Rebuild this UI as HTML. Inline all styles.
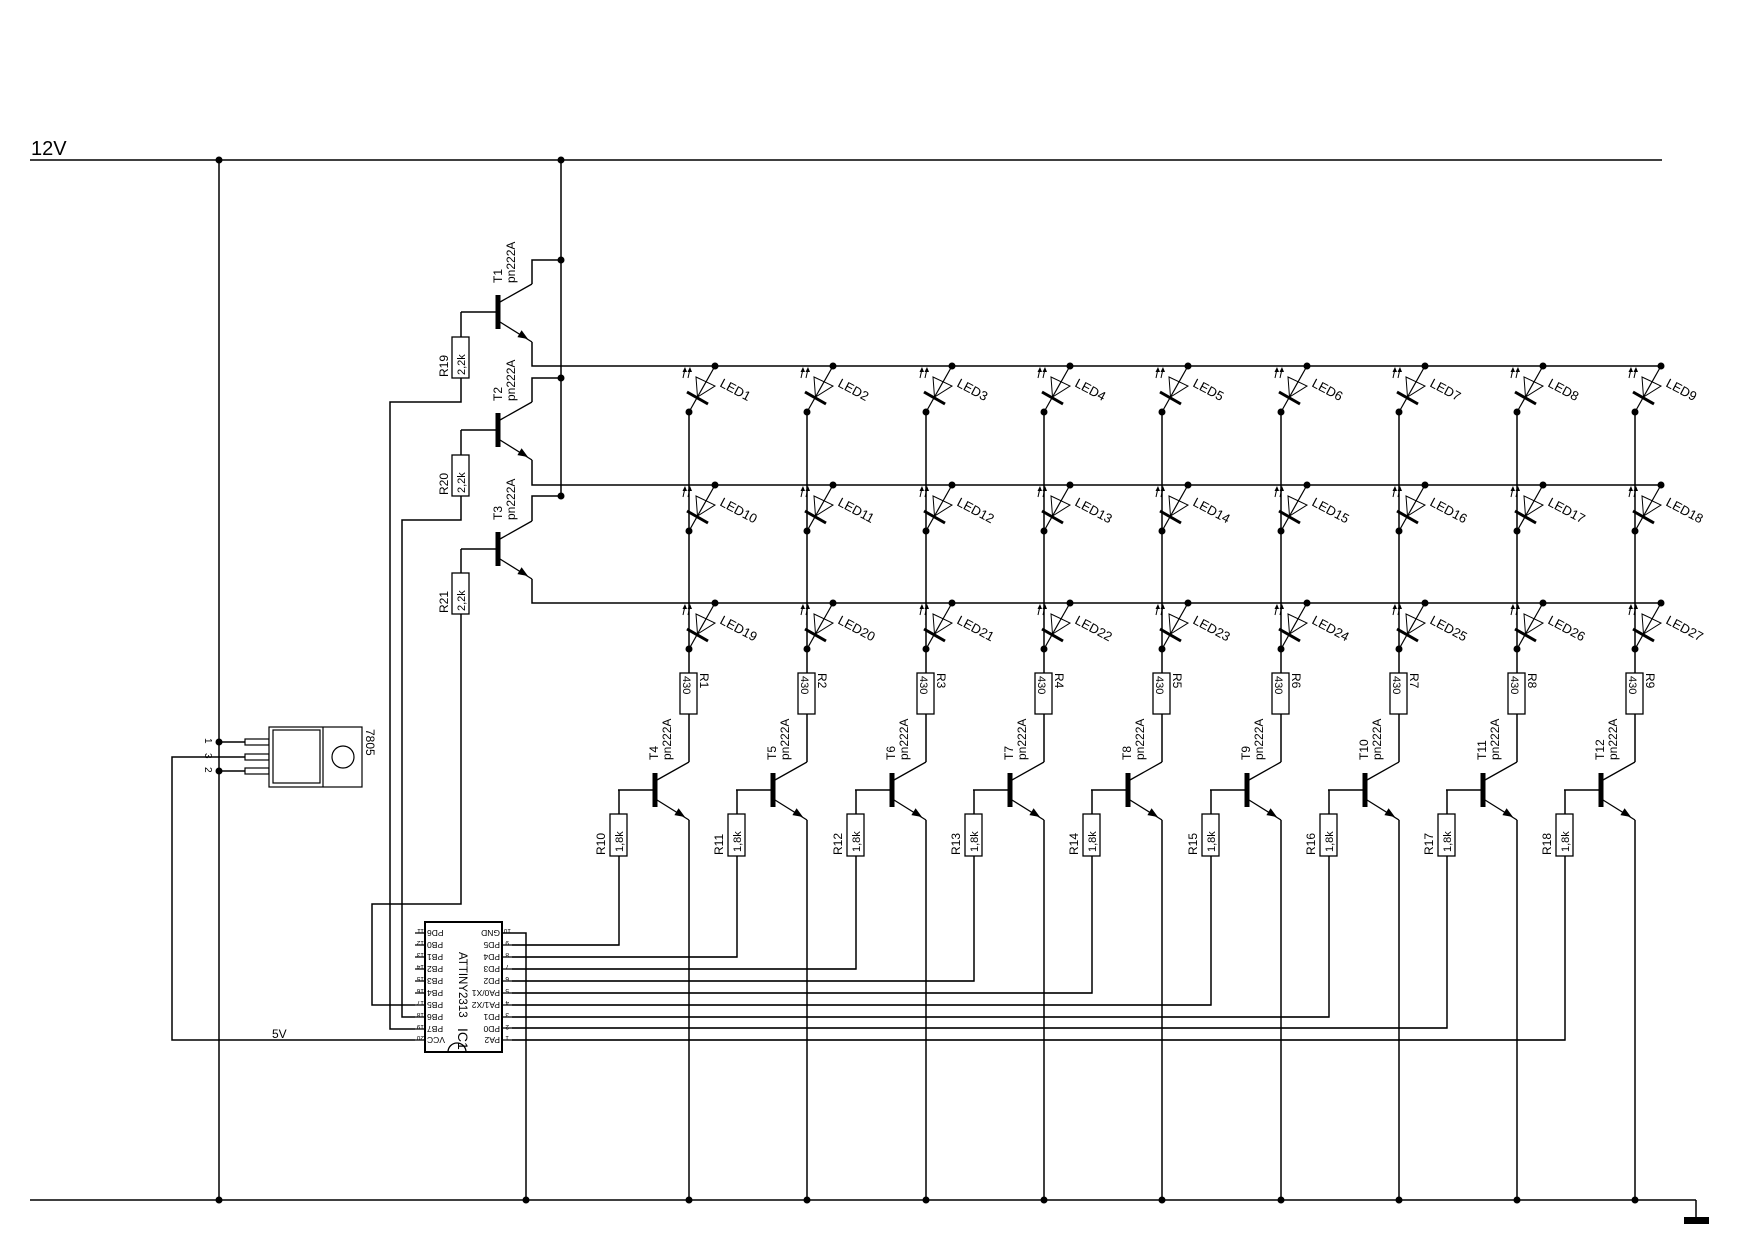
<!DOCTYPE html>
<html><head><meta charset="utf-8"><style>
html,body{margin:0;padding:0;background:#fff;}
svg{display:block;}
text{font-family:"Liberation Sans",sans-serif;fill:#000;}
</style></head><body>
<svg width="1754" height="1240" viewBox="0 0 1754 1240" xmlns="http://www.w3.org/2000/svg">
<defs>
<g id="tr">
<rect x="-2.5" y="-17" width="5" height="34" fill="#000"/>
<line x1="2" y1="-10" x2="34" y2="-28" stroke="#000" stroke-width="1.3"/>
<line x1="2" y1="10" x2="34" y2="30" stroke="#000" stroke-width="1.3"/>
<polygon points="30,27 23.6,18.3 19.4,25.1" fill="#000"/>
<line x1="-2" y1="0" x2="-37" y2="0" stroke="#000" stroke-width="1.5"/>
</g>
<g id="led">
<line x1="0" y1="0" x2="-26" y2="46" stroke="#000" stroke-width="1.2"/>
<polygon points="-19,11 0,20 -17.5,31" fill="none" stroke="#000" stroke-width="1"/>
<line x1="-28" y1="26" x2="-7" y2="38" stroke="#000" stroke-width="3"/>
<line x1="-32" y1="12" x2="-30" y2="3" stroke="#000" stroke-width="1"/>
<line x1="-27" y1="12" x2="-25" y2="3" stroke="#000" stroke-width="1"/>
<polygon points="-30,1 -32.5,6 -28,6" fill="#000"/>
<polygon points="-25,1 -27.5,6 -23,6" fill="#000"/>
<circle cx="0" cy="0" r="3.5" fill="#000"/>
<circle cx="-26" cy="46" r="3.5" fill="#000"/>
</g>
<g id="col">
<line x1="689" y1="412" x2="689" y2="673" stroke="#000" stroke-width="1.5"/>
<use href="#led" x="715" y="366"/>
<use href="#led" x="715" y="485"/>
<use href="#led" x="715" y="603"/>
<rect x="680" y="673" width="17" height="41" fill="#fff" stroke="#000" stroke-width="1.3"/>
<line x1="689" y1="714" x2="689" y2="762" stroke="#000" stroke-width="1.5"/>
<use href="#tr" x="655" y="790"/>
<line x1="689" y1="820" x2="689" y2="1200" stroke="#000" stroke-width="1.5"/>
<circle cx="689" cy="1200" r="3.5" fill="#000"/>
<line x1="619" y1="790" x2="619" y2="814" stroke="#000" stroke-width="1.5"/>
<rect x="610" y="814" width="17" height="42" fill="#fff" stroke="#000" stroke-width="1.3"/>
</g>
</defs>

<g stroke="#000" stroke-width="1.5" fill="none">
<line x1="30" y1="160" x2="1662" y2="160"/>
<line x1="30" y1="1200" x2="1696" y2="1200"/>
<polyline points="1696,1200 1696,1218"/>
<line x1="219" y1="160" x2="219" y2="1200"/>
<line x1="561" y1="160" x2="561" y2="496"/>
<path d="M532 284V260H561M532 342V366H1661"/>
<path d="M532 402V378H561M532 460V485H1661"/>
<path d="M532 521V496H561M532 579V603H1661"/>
<path d="M461 312V337M461 378V402H390V1029H415"/>
<path d="M461 430V455M461 496V520H402V1017H415"/>
<path d="M461 549V573M461 614V904H372V1005H415"/>
<path d="M619 856V945H512M737 856V957H512M856 856V969H512M974 856V981H512M1092 856V993H512M1211 856V1005H512M1329 856V1017H512M1447 856V1028H512M1565 856V1040H512"/>
<path d="M502 933H526V1200"/>
<path d="M415 1040H172V757H245"/>
<path d="M219 742H245M219 771H245"/>
</g>
<rect x="1684" y="1217" width="25" height="7" fill="#000"/>
<text x="31" y="155" font-size="20">12V</text>
<text x="272" y="1038" font-size="12">5V</text>
<g fill="#000">
<circle cx="219" cy="160" r="3.5"/><circle cx="561" cy="160" r="3.5"/>
<circle cx="219" cy="1200" r="3.5"/><circle cx="526" cy="1200" r="3.5"/>
<circle cx="561" cy="260" r="3.5"/><circle cx="561" cy="378" r="3.5"/><circle cx="561" cy="496" r="3.5"/>
<circle cx="219" cy="742" r="3.5"/><circle cx="219" cy="771" r="3.5"/>
</g>

<use href="#tr" x="498" y="312"/>
<use href="#tr" x="498" y="430"/>
<use href="#tr" x="498" y="549"/>
<rect x="452" y="337" width="17" height="41" fill="#fff" stroke="#000" stroke-width="1.3"/>
<rect x="452" y="455" width="17" height="41" fill="#fff" stroke="#000" stroke-width="1.3"/>
<rect x="452" y="573" width="17" height="41" fill="#fff" stroke="#000" stroke-width="1.3"/>
<g font-size="12">
<text transform="translate(502,283) rotate(-90)">T1</text><text transform="translate(515,283) rotate(-90)">pn222A</text>
<text transform="translate(502,401) rotate(-90)">T2</text><text transform="translate(515,401) rotate(-90)">pn222A</text>
<text transform="translate(502,520) rotate(-90)">T3</text><text transform="translate(515,520) rotate(-90)">pn222A</text>
<text transform="translate(448,377) rotate(-90)">R19</text><text transform="translate(465,375) rotate(-90)" font-size="11">2,2k</text>
<text transform="translate(448,495) rotate(-90)">R20</text><text transform="translate(465,493) rotate(-90)" font-size="11">2,2k</text>
<text transform="translate(448,613) rotate(-90)">R21</text><text transform="translate(465,611) rotate(-90)" font-size="11">2,2k</text>
</g>

<g stroke="#000" stroke-width="1.2" fill="#fff">
<rect x="245" y="739" width="24" height="6"/>
<rect x="245" y="754" width="24" height="6"/>
<rect x="245" y="768" width="24" height="6"/>
<rect x="269" y="727" width="93" height="60"/>
<rect x="273" y="730" width="47" height="53"/>
<line x1="323" y1="727" x2="323" y2="787"/>
<circle cx="343" cy="757" r="11"/>
</g>
<g font-size="10">
<text transform="translate(205,738) rotate(90)">1</text>
<text transform="translate(205,753) rotate(90)">3</text>
<text transform="translate(205,767) rotate(90)">2</text>
</g>
<text transform="translate(366,729) rotate(90)" font-size="12">7805</text>

<g stroke="#000" stroke-width="1.3">
<rect x="425" y="922" width="77" height="130" fill="#fff" stroke-width="2"/>
<path d="M448 1052A9 9 0 0 1 466 1052" fill="none"/>
<path d="M415 933H425M415 945H425M415 957H425M415 969H425M415 981H425M415 993H425M415 1005H425M415 1017H425M415 1029H425M415 1040H425"/>
</g>
<g stroke="#000" stroke-width="1.3" fill="none">
<path d="M502 945H619M502 957H737M502 969H856M502 981H974M502 993H1092M502 1005H1211M502 1017H1329M502 1028H1447M502 1040H1565"/>
</g>
<g font-size="8.5">
<text transform="translate(427,930) rotate(180)" text-anchor="end">PD6</text>
<text transform="translate(427,942) rotate(180)" text-anchor="end">PB0</text>
<text transform="translate(427,954) rotate(180)" text-anchor="end">PB1</text>
<text transform="translate(427,966) rotate(180)" text-anchor="end">PB2</text>
<text transform="translate(427,978) rotate(180)" text-anchor="end">PB3</text>
<text transform="translate(427,990) rotate(180)" text-anchor="end">PB4</text>
<text transform="translate(427,1002) rotate(180)" text-anchor="end">PB5</text>
<text transform="translate(427,1014) rotate(180)" text-anchor="end">PB6</text>
<text transform="translate(427,1026) rotate(180)" text-anchor="end">PB7</text>
<text transform="translate(427,1037) rotate(180)" text-anchor="end">VCC</text>
<text transform="translate(500,930) rotate(180)">GND</text>
<text transform="translate(500,942) rotate(180)">PD5</text>
<text transform="translate(500,954) rotate(180)">PD4</text>
<text transform="translate(500,966) rotate(180)">PD3</text>
<text transform="translate(500,978) rotate(180)">PD2</text>
<text transform="translate(500,990) rotate(180)">PA0/X1</text>
<text transform="translate(500,1002) rotate(180)">PA1/X2</text>
<text transform="translate(500,1014) rotate(180)">PD1</text>
<text transform="translate(500,1026) rotate(180)">PD0</text>
<text transform="translate(500,1037) rotate(180)">PA2</text>
</g>
<g font-size="6.5">
<text transform="translate(424,929) rotate(180)">11</text><text transform="translate(424,941) rotate(180)">12</text>
<text transform="translate(424,953) rotate(180)">13</text><text transform="translate(424,965) rotate(180)">14</text>
<text transform="translate(424,977) rotate(180)">15</text><text transform="translate(424,989) rotate(180)">16</text>
<text transform="translate(424,1001) rotate(180)">17</text><text transform="translate(424,1013) rotate(180)">18</text>
<text transform="translate(424,1025) rotate(180)">19</text><text transform="translate(424,1036) rotate(180)">20</text>
<text transform="translate(511,929) rotate(180)">10</text><text transform="translate(509,941) rotate(180)">9</text>
<text transform="translate(509,953) rotate(180)">8</text><text transform="translate(509,965) rotate(180)">7</text>
<text transform="translate(509,977) rotate(180)">6</text><text transform="translate(509,989) rotate(180)">5</text>
<text transform="translate(509,1001) rotate(180)">4</text><text transform="translate(509,1013) rotate(180)">3</text>
<text transform="translate(509,1025) rotate(180)">2</text><text transform="translate(509,1036) rotate(180)">1</text>
</g>
<text transform="translate(459,952) rotate(90)" font-size="11.5">ATTINY2313</text>
<text transform="translate(458,1028) rotate(90)" font-size="14">IC1</text>

<use href="#col" x="0"/>
<use href="#col" x="118"/>
<use href="#col" x="237"/>
<use href="#col" x="355"/>
<use href="#col" x="473"/>
<use href="#col" x="592"/>
<use href="#col" x="710"/>
<use href="#col" x="828"/>
<use href="#col" x="946"/>

<g font-size="13">
<text transform="translate(719,386) rotate(28)">LED1</text>
<text transform="translate(837,386) rotate(28)">LED2</text>
<text transform="translate(956,386) rotate(28)">LED3</text>
<text transform="translate(1074,386) rotate(28)">LED4</text>
<text transform="translate(1192,386) rotate(28)">LED5</text>
<text transform="translate(1311,386) rotate(28)">LED6</text>
<text transform="translate(1429,386) rotate(28)">LED7</text>
<text transform="translate(1547,386) rotate(28)">LED8</text>
<text transform="translate(1665,386) rotate(28)">LED9</text>
<text transform="translate(719,505) rotate(28)">LED10</text>
<text transform="translate(837,505) rotate(28)">LED11</text>
<text transform="translate(956,505) rotate(28)">LED12</text>
<text transform="translate(1074,505) rotate(28)">LED13</text>
<text transform="translate(1192,505) rotate(28)">LED14</text>
<text transform="translate(1311,505) rotate(28)">LED15</text>
<text transform="translate(1429,505) rotate(28)">LED16</text>
<text transform="translate(1547,505) rotate(28)">LED17</text>
<text transform="translate(1665,505) rotate(28)">LED18</text>
<text transform="translate(719,623) rotate(28)">LED19</text>
<text transform="translate(837,623) rotate(28)">LED20</text>
<text transform="translate(956,623) rotate(28)">LED21</text>
<text transform="translate(1074,623) rotate(28)">LED22</text>
<text transform="translate(1192,623) rotate(28)">LED23</text>
<text transform="translate(1311,623) rotate(28)">LED24</text>
<text transform="translate(1429,623) rotate(28)">LED25</text>
<text transform="translate(1547,623) rotate(28)">LED26</text>
<text transform="translate(1665,623) rotate(28)">LED27</text>
</g>
<g font-size="12">
<text transform="translate(700,673) rotate(90)">R1</text><text transform="translate(683,676) rotate(90)" font-size="11">430</text>
<text transform="translate(818,673) rotate(90)">R2</text><text transform="translate(801,676) rotate(90)" font-size="11">430</text>
<text transform="translate(937,673) rotate(90)">R3</text><text transform="translate(920,676) rotate(90)" font-size="11">430</text>
<text transform="translate(1055,673) rotate(90)">R4</text><text transform="translate(1038,676) rotate(90)" font-size="11">430</text>
<text transform="translate(1173,673) rotate(90)">R5</text><text transform="translate(1156,676) rotate(90)" font-size="11">430</text>
<text transform="translate(1292,673) rotate(90)">R6</text><text transform="translate(1275,676) rotate(90)" font-size="11">430</text>
<text transform="translate(1410,673) rotate(90)">R7</text><text transform="translate(1393,676) rotate(90)" font-size="11">430</text>
<text transform="translate(1528,673) rotate(90)">R8</text><text transform="translate(1511,676) rotate(90)" font-size="11">430</text>
<text transform="translate(1646,673) rotate(90)">R9</text><text transform="translate(1629,676) rotate(90)" font-size="11">430</text>

<text transform="translate(658,760) rotate(-90)">T4</text><text transform="translate(671,760) rotate(-90)">pn222A</text>
<text transform="translate(776,760) rotate(-90)">T5</text><text transform="translate(789,760) rotate(-90)">pn222A</text>
<text transform="translate(895,760) rotate(-90)">T6</text><text transform="translate(908,760) rotate(-90)">pn222A</text>
<text transform="translate(1013,760) rotate(-90)">T7</text><text transform="translate(1026,760) rotate(-90)">pn222A</text>
<text transform="translate(1131,760) rotate(-90)">T8</text><text transform="translate(1144,760) rotate(-90)">pn222A</text>
<text transform="translate(1250,760) rotate(-90)">T9</text><text transform="translate(1263,760) rotate(-90)">pn222A</text>
<text transform="translate(1368,760) rotate(-90)">T10</text><text transform="translate(1381,760) rotate(-90)">pn222A</text>
<text transform="translate(1486,760) rotate(-90)">T11</text><text transform="translate(1499,760) rotate(-90)">pn222A</text>
<text transform="translate(1604,760) rotate(-90)">T12</text><text transform="translate(1617,760) rotate(-90)">pn222A</text>

<text transform="translate(605,855) rotate(-90)">R10</text><text transform="translate(623,852) rotate(-90)" font-size="11">1,8k</text>
<text transform="translate(723,855) rotate(-90)">R11</text><text transform="translate(741,852) rotate(-90)" font-size="11">1,8k</text>
<text transform="translate(842,855) rotate(-90)">R12</text><text transform="translate(860,852) rotate(-90)" font-size="11">1,8k</text>
<text transform="translate(960,855) rotate(-90)">R13</text><text transform="translate(978,852) rotate(-90)" font-size="11">1,8k</text>
<text transform="translate(1078,855) rotate(-90)">R14</text><text transform="translate(1096,852) rotate(-90)" font-size="11">1,8k</text>
<text transform="translate(1197,855) rotate(-90)">R15</text><text transform="translate(1215,852) rotate(-90)" font-size="11">1,8k</text>
<text transform="translate(1315,855) rotate(-90)">R16</text><text transform="translate(1333,852) rotate(-90)" font-size="11">1,8k</text>
<text transform="translate(1433,855) rotate(-90)">R17</text><text transform="translate(1451,852) rotate(-90)" font-size="11">1,8k</text>
<text transform="translate(1551,855) rotate(-90)">R18</text><text transform="translate(1569,852) rotate(-90)" font-size="11">1,8k</text>
</g>
</svg>
</body></html>
